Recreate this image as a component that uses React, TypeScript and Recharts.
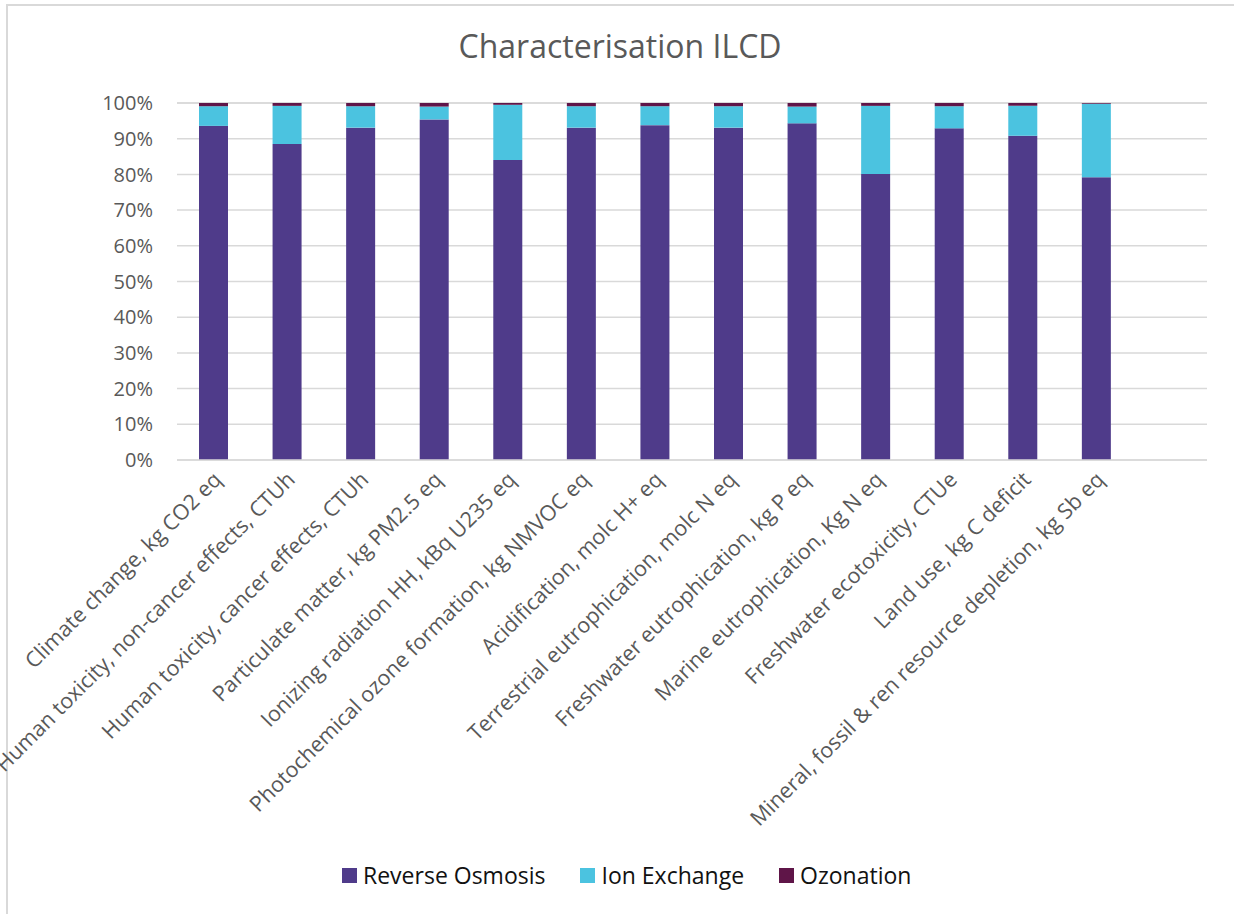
import { BarChart, Bar, XAxis, YAxis, CartesianGrid, Legend } from 'recharts';

const categories = [
  'Climate change, kg CO2 eq',
  'Human toxicity, non-cancer effects, CTUh',
  'Human toxicity, cancer effects, CTUh',
  'Particulate matter, kg PM2.5 eq',
  'Ionizing radiation HH, kBq U235 eq',
  'Photochemical ozone formation, kg NMVOC eq',
  'Acidification, molc H+ eq',
  'Terrestrial eutrophication, molc N eq',
  'Freshwater eutrophication, kg P eq',
  'Marine eutrophication, Kg N eq',
  'Freshwater ecotoxicity, CTUe',
  'Land use, kg C deficit',
  'Mineral, fossil & ren resource depletion, kg Sb eq',
  '',
];

const reverseOsmosis = [93.6, 88.5, 93.1, 95.4, 84.0, 93.1, 93.8, 93.1, 94.3, 80.1, 92.9, 90.8, 79.2];
const ionExchange = [5.5, 10.7, 6.0, 3.6, 15.5, 6.0, 5.3, 6.0, 4.7, 19.1, 6.2, 8.4, 20.6];
const ozonation = [0.9, 0.8, 0.9, 1.0, 0.5, 0.9, 0.9, 0.9, 1.0, 0.8, 0.9, 0.8, 0.2];

const yTicks = [0, 10, 20, 30, 40, 50, 60, 70, 80, 90, 100];

const series = [
  { key: 'ro', name: 'Reverse Osmosis', color: '#4F3B8A' },
  { key: 'ie', name: 'Ion Exchange', color: '#4BC3E0' },
  { key: 'oz', name: 'Ozonation', color: '#5F1548' },
];

const data = categories.map((name, i) => ({
  name,
  ro: reverseOsmosis[i],
  ie: ionExchange[i],
  oz: ozonation[i],
}));

const FONT = '"Open Sans", sans-serif';

function CategoryTick({ x, y, payload }: any) {
  if (!payload.value) return null;
  const tx = x + 9;
  const ty = y + 21;
  return (
    <text
      x={tx}
      y={ty}
      transform={`rotate(-45, ${tx}, ${ty})`}
      textAnchor="end"
      fontSize={21.5}
      fill="#595959"
      fontFamily={FONT}
    >
      {payload.value}
    </text>
  );
}

function LegendContent() {
  return (
    <div style={{ display: 'flex', paddingLeft: 342, fontFamily: FONT, fontSize: 23, lineHeight: '32px', color: '#111' }}>
      {series.map((s) => (
        <div key={s.key} style={{ display: 'flex', alignItems: 'center', marginRight: 35 }}>
          <span style={{ width: 15, height: 15, background: s.color, marginRight: 6, display: 'inline-block' }} />
          <span>{s.name}</span>
        </div>
      ))}
    </div>
  );
}

export default function App() {
  return (
    <div style={{ position: 'absolute', left: 0, top: 0, width: 1234, height: 914, background: '#fff' }}>
      <div style={{ position: 'absolute', left: 6, top: 4, width: 1228, height: 2, background: '#d9d9d9' }} />
      <div style={{ position: 'absolute', left: 6, top: 4, width: 2, height: 910, background: '#d9d9d9' }} />
      <div
        style={{
          position: 'absolute',
          left: 0,
          width: 1240,
          top: 30,
          textAlign: 'center',
          fontFamily: FONT,
          fontSize: 32,
          lineHeight: 1,
          color: '#595959',
        }}
      >
        Characterisation ILCD
      </div>
      <BarChart
        width={1234}
        height={914}
        data={data}
        margin={{ top: 103, right: 27, bottom: 74, left: 117 }}
        barSize={29}
      >
        <CartesianGrid vertical={false} stroke="#d9d9d9" strokeWidth={1.5} />
        <XAxis
          dataKey="name"
          interval={0}
          height={380}
          tick={<CategoryTick />}
          tickLine={false}
          tickSize={0}
          tickMargin={0}
          axisLine={{ stroke: '#d9d9d9', strokeWidth: 1.5 }}
        />
        <YAxis
          width={60}
          domain={[0, 100]}
          ticks={yTicks}
          tickFormatter={(v) => `${v}%`}
          axisLine={false}
          tickLine={false}
          tickSize={0}
          tickMargin={24}
          tick={{ fontSize: 20, fill: '#595959', fontFamily: FONT }}
        />
        <Legend
          verticalAlign="middle"
          align="center"
          wrapperStyle={{ top: 859, left: 0, width: 1234 }}
          content={<LegendContent />}
        />
        {series.map((s) => (
          <Bar key={s.key} dataKey={s.key} name={s.name} stackId="a" fill={s.color} isAnimationActive={false} />
        ))}
      </BarChart>
    </div>
  );
}
